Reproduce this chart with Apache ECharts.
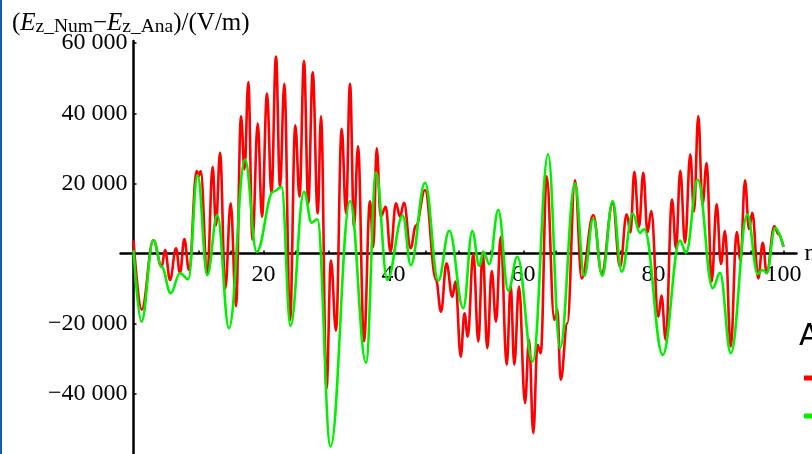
<!DOCTYPE html>
<html>
<head>
<meta charset="utf-8">
<script src="https://cdn.jsdelivr.net/npm/echarts@6/dist/echarts.min.js"></script>
<style>
  html, body { margin: 0; padding: 0; background: #fff; }
  #chart { width: 812px; height: 454px; }
</style>
</head>
<body>
<div id="chart"></div>
<script>
// Tick positions on both axes
const xTickLabels = [20, 40, 60, 80, 100];
const xTickMarks = [0, 5, 10, 15, 20, 25, 30, 35, 40, 45, 50, 55, 60, 65, 70, 75, 80, 85, 90, 95, 100];
const yTickLabels = [-40000, -20000, 20000, 40000, 60000];

// Red curve: sample index n and field difference (V/m) at its turning points
const redN = [0, 1.26, 3.05, 4.34, 4.85, 5.62, 6.54, 7.15, 7.82, 8.54, 9.72, 10.03, 10.34, 11.35, 12.18, 12.69, 13.31,
  14.12, 14.95, 15.77, 16.54, 17.08, 17.66, 18.31, 19.11, 19.77, 20.54, 21.23, 21.92, 22.54, 23.20, 24.08, 24.89,
  25.54, 26.23, 26.89, 27.57, 28.34, 28.85, 29.69, 30.38, 31.15, 32.03, 32.69, 33.31, 33.92, 34.54, 35.46, 36.38,
  36.89, 37.42, 38.03, 38.80, 39.54, 40.38, 41.00, 41.62, 42.62, 43.46, 44.85, 46.54, 47.31, 48.15, 49.05, 49.54,
  50.34, 50.92, 51.42, 52.28, 53.05, 53.72, 54.43, 55.11, 55.77, 56.49, 57.42, 58.03, 58.58, 59.31, 60.23, 60.85,
  61.51, 62.15, 62.65, 63.57, 64.74, 65.20, 65.72, 66.74, 67.92, 68.95, 70.74, 72.03, 73.72, 74.85, 75.88, 76.46,
  77.05, 77.77, 78.43, 79.08, 79.66, 80.74, 81.23, 81.88, 82.85, 83.46, 84.12, 84.85, 85.66, 86.23, 86.89, 87.54,
  88.18, 88.95, 89.72, 90.38, 91.00, 91.88, 92.80, 93.38, 94.08, 94.69, 95.20, 96.12, 96.80, 97.42, 98.58, 99.23, 100];
const redDiff = [3800, -16000, 3800, -3750, 1000, -7500, 1500, -5600, 4100, -4700, 23500, 22000, 23500, -6100, 24700, 8000, 28700,
  -10000, 14300, -15000, 39100, 24000, 48900, 4000, 37100, 10500, 45600, 17200, 56200, 19000, 48400, -19000, 36600,
  16200, 54900, 14300, 51700, 11400, 39100, -38500, -2000, -22000, 35600, 11500, 48400, 7600, 30600, -25000, 14900,
  1900, 30000, 10500, 13300, 500, 14300, 10500, 14500, 1500, 8000, 18100, -7500, -16600, -2800, -12300, -8000,
  -29400, -17000, -23700, 0, -25100, 500, -27000, -5000, -19400, 4800, -31700, -9000, -31700, -9400, -42600, -24600,
  -51200, -26000, -28400, 22000, -18900, -16000, -36000, -19900, 20900, -7100, 11000, -5600, 14300, -3800, 11200, 6000,
  23300, 7600, 23000, 6000, 12100, -18000, -12000, -24600, 15400, 1500, 23600, 3000, 28300, 12000, 39200, 14000,
  25800, -8000, 14100, -3000, 6400, -26500, 6100, -2000, 20900, 7000, 11600, -7100, 3100, -5600, 7800, 5500, 1900];

// Green curve: sample index n and field difference (V/m) at its turning points
const greenN = [0, 1.23, 3.05, 4.34, 5.72, 7.15, 8.43, 9.86, 11.35, 12.89, 14.69, 17.15, 18.95, 21.49, 22.78, 24.15,
  26.23, 27.42, 28.28, 30.31, 33.31, 35.77, 37.31, 39.05, 41.42, 42.66, 44.85, 46.89, 48.58, 50.74, 52.12, 53.20,
  53.82, 54.74, 56.12, 57.66, 59.05, 61.42, 63.78, 65.62, 67.92, 69.35, 70.74, 72.12, 73.72, 75.11, 76.80, 77.92,
  78.58, 81.42, 84.08, 85.00, 86.80, 89.11, 90.23, 91.88, 94.43, 96.03, 96.74, 97.42, 98.71, 100];
const greenDiff = [1000, -19400, 3800, -3800, -11300, -5600, -7300, 22300, -6100, 11000, -21300, 26800, 500, 17600, 19000, -20600,
  17600, 8800, 9800, -55000, 15000, -31100, 23100, -7500, 10800, -3300, 20200, -7700, 6500, -15600, 6400, -3500,
  500, -3000, 12400, -10600, -900, -30800, 28300, -27000, 20000, -6300, 10000, -6300, 15000, -5200, 11400, 5900,
  6900, -28900, 3700, 200, 21100, -9900, -5500, -28400, 11100, -5800, -4700, -5500, 7300, 1900];

const seriesNames = ['Run 1', 'Run 2'];

const pair = (xs, ys) => xs.map((x, i) => [x, ys[i]]);

function fmtThousands(v) {
  const a = Math.abs(v);
  const s = String(a).replace(/\B(?=(\d{3})+(?!\d))/g, ' ');
  return (v < 0 ? '\u2212' : '') + s;
}

const serif = '"Liberation Serif", "Times New Roman", serif';
const X_MIN = -2, X_MAX = 102, Y_MIN = -60000, Y_MAX = 60600;
const PLOT_LEFT = 120.5, PLOT_TOP = 41, PLOT_W = 676, PLOT_H = 423;
const PX_PER_N = PLOT_W / (X_MAX - X_MIN);
const ZERO_X = PLOT_LEFT - X_MIN * PX_PER_N;                    // pixel column of n = 0
const ZERO_Y = PLOT_TOP + Y_MAX / (Y_MAX - Y_MIN) * PLOT_H;     // pixel row of 0 V/m

const hidden = { show: false };
const chart = echarts.init(document.getElementById('chart'), null, { renderer: 'canvas' });

chart.setOption({
  animation: false,
  backgroundColor: '#fff',
  grid: [
    // 0: data area, axes crossing at the origin
    { left: PLOT_LEFT, top: PLOT_TOP, width: PLOT_W, height: PLOT_H, outerBoundsMode: 'none' },
    // 1: upper half, its bottom edge on the zero line -> carries the n ticks and labels
    { left: PLOT_LEFT, top: PLOT_TOP, width: PLOT_W, height: ZERO_Y - PLOT_TOP, outerBoundsMode: 'none' },
    // 2: right part, its left edge on n = 0 -> carries the V/m ticks and labels
    { left: ZERO_X, top: PLOT_TOP, width: PLOT_LEFT + PLOT_W - ZERO_X, height: PLOT_H, outerBoundsMode: 'none' }
  ],
  xAxis: [
    {
      gridIndex: 0, type: 'value', min: X_MIN, max: X_MAX,
      name: 'n', nameLocation: 'end', nameGap: 8,
      nameTextStyle: { fontFamily: serif, fontSize: 24, color: '#000', verticalAlign: 'middle' },
      axisLine: { onZero: true, lineStyle: { color: '#000', width: 2.5 } },
      axisTick: hidden, axisLabel: hidden, splitLine: hidden
    },
    {
      gridIndex: 1, type: 'value', min: X_MIN, max: X_MAX,
      axisLine: { show: false, onZero: false },
      axisTick: { show: true, inside: true, length: 3, customValues: xTickMarks, lineStyle: { color: '#000', width: 1.5 } },
      axisLabel: { customValues: xTickLabels, margin: 9, fontFamily: serif, fontSize: 24, color: '#000' },
      splitLine: hidden
    },
    {
      gridIndex: 2, type: 'value', min: 0, max: X_MAX,
      axisLine: hidden, axisTick: hidden, axisLabel: hidden, splitLine: hidden
    }
  ],
  yAxis: [
    {
      gridIndex: 0, type: 'value', min: Y_MIN, max: Y_MAX,
      axisLine: { onZero: true, lineStyle: { color: '#000', width: 2.5 } },
      axisTick: hidden, axisLabel: hidden, splitLine: hidden
    },
    {
      gridIndex: 1, type: 'value', min: 0, max: Y_MAX,
      axisLine: hidden, axisTick: hidden, axisLabel: hidden, splitLine: hidden
    },
    {
      gridIndex: 2, type: 'value', min: Y_MIN, max: Y_MAX,
      axisLine: { show: false, onZero: false },
      axisTick: { show: true, inside: true, length: 3, customValues: yTickLabels, lineStyle: { color: '#000', width: 1.5 } },
      axisLabel: { customValues: yTickLabels, margin: 6, fontFamily: serif, fontSize: 24, color: '#000', formatter: fmtThousands },
      splitLine: hidden
    }
  ],
  legend: {
    show: true,
    orient: 'vertical',
    left: 799, top: 366,
    icon: 'rect',
    itemWidth: 24, itemHeight: 5, itemGap: 24,
    textStyle: { fontSize: 14, lineHeight: 14, color: '#000' },
    data: seriesNames
  },
  graphic: [
    { type: 'rect', left: 0, top: 0, shape: { width: 2, height: 454 }, style: { fill: '#1c5aa8' } },
    {
      type: 'text', left: 12, top: 9,
      style: {
        text: '({e|E}{s|z_Num}\u2212{e|E}{s|z_Ana})/(V/m)',
        fontFamily: 'Liberation Serif', fontSize: 25, lineHeight: 28, fill: '#000',
        rich: {
          e: { fontFamily: 'Liberation Serif', fontStyle: 'italic', fontSize: 25, lineHeight: 28 },
          s: { fontFamily: 'Liberation Serif', fontSize: 19.5, lineHeight: 14, verticalAlign: 'bottom' }
        }
      }
    },
    { type: 'text', left: 799, top: 322, style: { text: 'A', fontFamily: '"DejaVu Sans", sans-serif', fontSize: 30, fill: '#000' } }
  ],
  series: [
    {
      name: seriesNames[0], type: 'line', xAxisIndex: 0, yAxisIndex: 0, data: pair(redN, redDiff),
      showSymbol: false, symbol: 'none', smooth: 0.4, smoothMonotone: 'x',
      lineStyle: { color: '#ff0000', width: 2.6 }, itemStyle: { color: '#ff0000' }, z: 2
    },
    {
      name: seriesNames[1], type: 'line', xAxisIndex: 0, yAxisIndex: 0, data: pair(greenN, greenDiff),
      showSymbol: false, symbol: 'none', smooth: 0.4, smoothMonotone: 'x',
      lineStyle: { color: '#00f000', width: 2.6 }, itemStyle: { color: '#00f000' }, z: 3
    }
  ]
});
</script>
</body>
</html>
